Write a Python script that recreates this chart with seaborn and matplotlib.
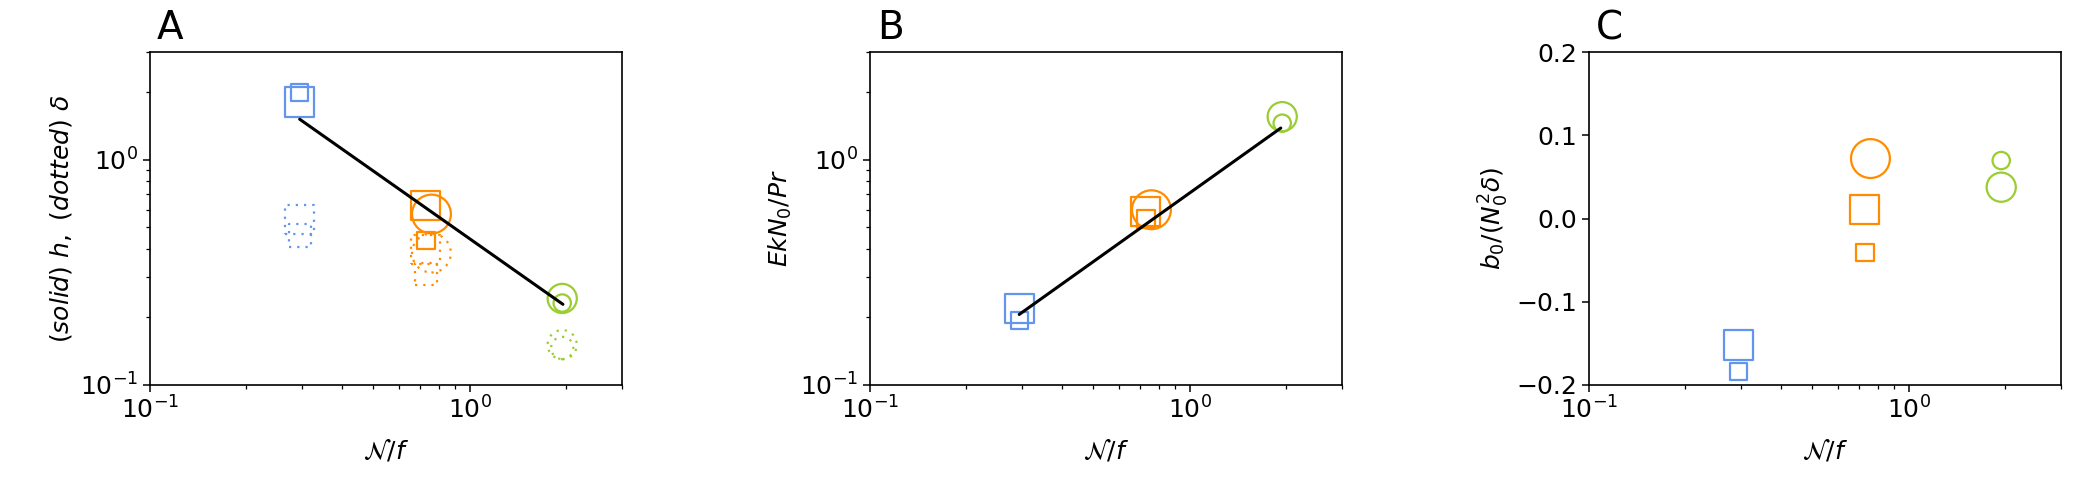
import numpy as np
import pandas as pd
import matplotlib
matplotlib.use("Agg")
import matplotlib.pyplot as plt
import seaborn as sns

# ---------------- data ----------------
series = ["blue", "blue", "orange", "orange", "orange", "green", "green"]
shape = ["s", "s", "s", "s", "o", "o", "o"]
size_cls = ["medium", "small", "medium", "small", "large", "medium", "small"]
n_over_f = [0.294, 0.294, 0.73, 0.73, 0.76, 1.95, 1.95]
h_solid = [1.80, 1.98, 0.626, 0.438, 0.573, 0.242, 0.231]
delta_dotted = [0.54, 0.46, 0.40, 0.31, 0.385, 0.151, 0.146]
ek_n0_pr = [0.218, 0.193, 0.589, 0.544, 0.599, 1.55, 1.45]
b0_norm = [-0.152, -0.184, 0.0112, -0.041, 0.072, 0.0376, 0.0696]

fitA_x = [0.294, 1.96]
fitA_y = [1.51, 0.228]
fitB_x = [0.293, 1.93]
fitB_y = [0.2055, 1.38]

panel_letters = ["A", "B", "C"]
xlabel = r"$\mathcal{N}/f$"
ylabels = [r"$(solid)\ h,\ (dotted)\ \delta$", r"$EkN_0/Pr$", r"$b_0/(N_0^2\delta)$"]
c_ticks = [-0.2, -0.1, 0.0, 0.1, 0.2]

# ---------------- style ----------------
palette = {"blue": "#6495ED", "orange": "#FF8C00", "green": "#9ACD32"}
ms_solid = {"large": 28.0, "medium": 21.0, "small": 12.5}
ms_dotted = {"large": 28.0, "medium": 21.0, "small": 16.0}

sns.set_style("ticks")
plt.rcParams.update({
    "font.family": ["DejaVu Sans"],
    "mathtext.fontset": "dejavusans",
    "font.size": 18,
    "text.color": "black",
    "axes.labelcolor": "black",
    "axes.linewidth": 1.2,
    "xtick.major.size": 5, "ytick.major.size": 5,
    "xtick.minor.size": 3, "ytick.minor.size": 3,
    "xtick.major.width": 1.1, "ytick.major.width": 1.1,
    "xtick.minor.width": 0.9, "ytick.minor.width": 0.9,
    "xtick.labelsize": 18, "ytick.labelsize": 18,
    "axes.labelsize": 18,
    "axes.edgecolor": "black",
    "xtick.color": "black", "ytick.color": "black",
    "xtick.labelcolor": "black", "ytick.labelcolor": "black",
})

df = pd.DataFrame({
    "series": series, "shape": shape, "cls": size_cls, "x": n_over_f,
    "h": h_solid, "delta": delta_dotted, "ek": ek_n0_pr, "b0": b0_norm,
})

fig = plt.figure(figsize=(20.94, 4.80), dpi=100)
lefts = [150 / 2094, 870 / 2094, 1589 / 2094]
width = 472 / 2094
bottom = 95 / 480
height = 333 / 480
axes = [fig.add_axes([l, bottom, width, height]) for l in lefts]

dotted = (0, (1, 2.7))


def draw_points(ax, ycol, ls="solid", sizes=ms_solid):
    for _, r in df.iterrows():
        c = palette[r["series"]]
        sns.scatterplot(x=[r["x"]], y=[r[ycol]], ax=ax, marker=r["shape"],
                        s=sizes[r["cls"]] ** 2, color=c, facecolor="none",
                        edgecolor=c, linewidth=1.6, linestyle=ls, zorder=2,
                        legend=False)


# Panel A
ax = axes[0]
draw_points(ax, "delta", ls=dotted, sizes=ms_dotted)
draw_points(ax, "h")
sns.lineplot(x=fitA_x, y=fitA_y, ax=ax, color="black", linewidth=2.2,
             sort=False, estimator=None, zorder=3)

# Panel B
ax = axes[1]
draw_points(ax, "ek")
sns.lineplot(x=fitB_x, y=fitB_y, ax=ax, color="black", linewidth=2.2,
             sort=False, estimator=None, zorder=3)

# Panel C
ax = axes[2]
draw_points(ax, "b0")

for i, ax in enumerate(axes):
    ax.set_xscale("log")
    ax.set_xlim(0.1, 3)
    if i < 2:
        ax.set_yscale("log")
        ax.set_ylim(0.1, 3)
    else:
        ax.set_ylim(-0.2, 0.2)
        ax.set_yticks(c_ticks)
    ax.set_xlabel(xlabel, labelpad=10)
    ax.set_ylabel(ylabels[i])
    for s in ["top", "right", "left", "bottom"]:
        ax.spines[s].set_visible(True)
        ax.spines[s].set_linewidth(1.2)
        ax.spines[s].set_color("black")
    ax.text(0.015, 1.039, panel_letters[i], transform=ax.transAxes,
            fontsize=28, va="baseline", ha="left", color="black")

fig.savefig("out.png", dpi=100)
